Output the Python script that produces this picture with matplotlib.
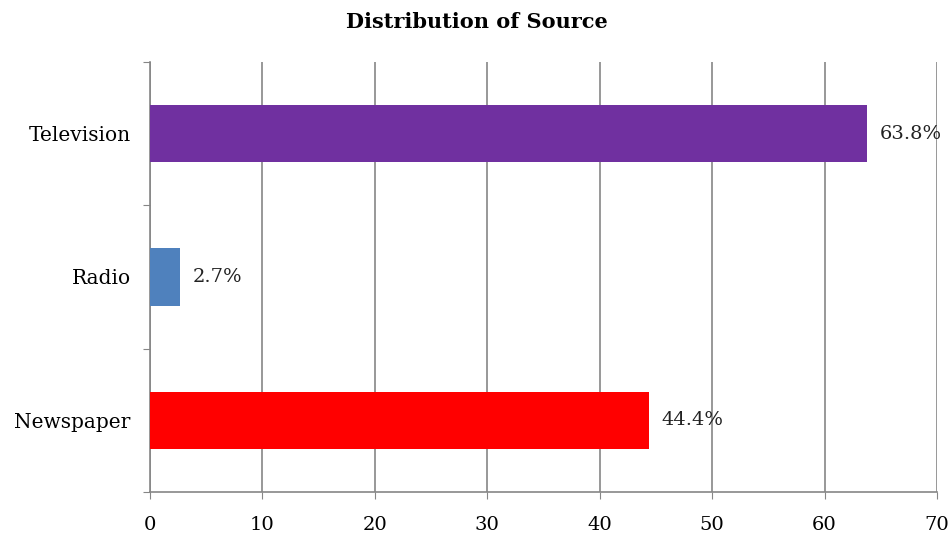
import matplotlib.pyplot as plt
import numpy as np

# data
categorias = ["Newspaper", "Radio", "Television"]
valores = [44.4, 2.7, 63.8]
colores = ["#FF0000", "#4F81BD", "#7030A0"]
ticks_x = [0, 10, 20, 30, 40, 50, 60, 70]

plt.rcParams['font.family'] = ['DejaVu Serif']

fig = plt.figure(figsize=(9.53, 5.42), dpi=100)
ax = fig.add_axes([0.1574, 0.0923, 0.8258, 0.7933])

pos = np.arange(len(categorias))
ax.barh(pos, valores, height=0.4, color=colores, zorder=3)

for p, v in zip(pos, valores):
    ax.annotate(f"{v}%", (v, p), xytext=(9, 0), textcoords='offset points',
                va='center', ha='left', fontsize=14, color='#222222')

ax.set_xlim(0, 70)
ax.set_ylim(-0.5, 2.5)
ax.set_xticks(ticks_x)
ax.set_xticklabels([str(t) for t in ticks_x], fontsize=14)

# category boundaries get tick marks, names sit between them
ax.set_yticks([-0.5, 0.5, 1.5, 2.5])
ax.set_yticklabels([])
ax.set_yticks(pos, minor=True)
ax.set_yticklabels(categorias, minor=True, fontsize=14.5)
ax.tick_params(axis='y', which='minor', length=0, pad=14)
ax.tick_params(axis='y', which='major', length=5, color='#868686')
ax.tick_params(axis='x', length=5, color='#868686', pad=12)

ax.grid(axis='x', color='#868686', linewidth=1.2, zorder=0)
for s in ['top', 'right']:
    ax.spines[s].set_visible(False)
for s in ['left', 'bottom']:
    ax.spines[s].set_color('#868686')
    ax.spines[s].set_linewidth(1.2)

fig.text(0.5, 0.96, "Distribution of Source", ha='center', va='center',
         fontsize=15, fontweight='bold')

fig.savefig("out.png", dpi=100)
